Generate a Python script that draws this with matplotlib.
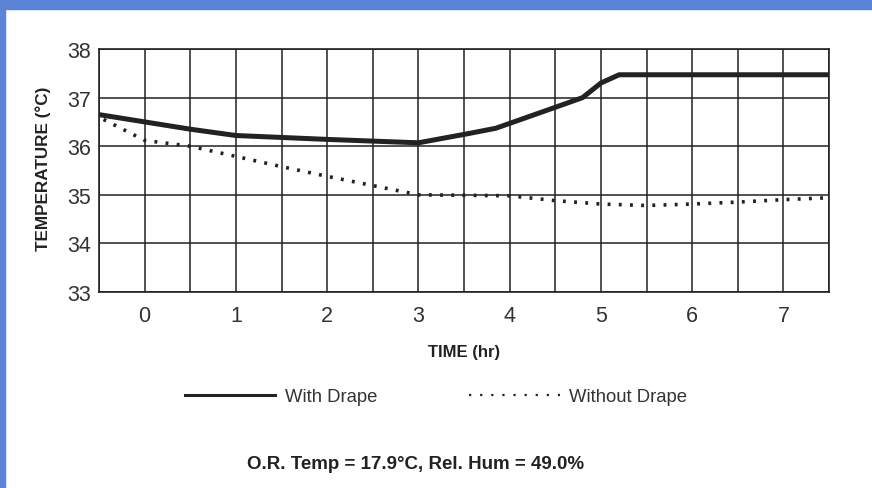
import matplotlib
matplotlib.use("Agg")
import matplotlib.pyplot as plt
from matplotlib.lines import Line2D
from matplotlib.patches import Rectangle

plt.rcParams['font.family'] = ['Liberation Sans', 'DejaVu Sans']

# data (time in hr, temperature in degC)
with_time = [-0.5, 0.0, 0.5, 1.0, 2.0, 3.0, 3.55, 3.85, 4.5, 4.8, 5.0, 5.2, 7.5]
with_temp = [36.65, 36.5, 36.35, 36.22, 36.14, 36.07, 36.26, 36.37, 36.8, 37.0, 37.3, 37.47, 37.47]

without_time = [-0.45, 0.0, 0.5, 1.0, 1.5, 2.0, 2.5, 3.0, 4.0, 4.5, 5.0, 5.5, 6.0, 6.5, 7.0, 7.5]
without_temp = [36.55, 36.12, 36.0, 35.79, 35.58, 35.38, 35.19, 35.0, 34.98, 34.88, 34.81, 34.78, 34.81, 34.85, 34.9, 34.94]

x_ticks = [0, 1, 2, 3, 4, 5, 6, 7]
x_minor = [-0.5, 0.5, 1.5, 2.5, 3.5, 4.5, 5.5, 6.5, 7.5]
y_ticks = [33, 34, 35, 36, 37, 38]

fig = plt.figure(figsize=(8.72, 4.89), dpi=100)
fig.patch.set_facecolor('white')

# blue frame from the slide
blue = '#5b84d6'
fig.patches.append(Rectangle((0, 1 - 10 / 489), 1, 10 / 489, transform=fig.transFigure,
                             color=blue, zorder=0))
fig.patches.append(Rectangle((0, 0), 5 / 872, 1, transform=fig.transFigure,
                             color=blue, zorder=0))

ax = fig.add_axes([99 / 872, 1 - 293 / 489, 730 / 872, 243 / 489])

ink = '#222222'
ax.plot(with_time, with_temp, color=ink, lw=3.6, solid_capstyle='butt',
        solid_joinstyle='round', zorder=3)
ax.plot(without_time, without_temp, color=ink, lw=2.6,
        linestyle=(0, (0.8, 2.3)), dash_capstyle='butt', zorder=3)

ax.set_xlim(-0.5, 7.5)
ax.set_ylim(33, 38)
ax.set_xticks(x_ticks)
ax.set_xticks(x_minor, minor=True)
ax.set_yticks(y_ticks)
ax.grid(True, which='both', color=ink, lw=1.1)
ax.tick_params(which='both', length=0)
ax.tick_params(axis='y', labelsize=15.5, pad=6, colors='#333333')
ax.tick_params(axis='x', labelsize=15.5, pad=9, colors='#333333')
for s in ax.spines.values():
    s.set_color(ink)
    s.set_linewidth(1.2)

fig.text(43 / 872, 1 - 169 / 489, 'TEMPERATURE (°C)', rotation=90, ha='center',
         va='center', fontsize=12.3, fontweight='bold', color='#222222')
fig.text(464 / 872, 1 - 352 / 489, 'TIME (hr)', ha='center', va='center',
         fontsize=12, fontweight='bold', color='#222222')

# legend
handles = [Line2D([], [], color=ink, lw=2.2),
           Line2D([], [], color=ink, lw=1.6, linestyle=(0, (1, 4)))]
fig.legend(handles, ['With Drape', 'Without Drape'], loc='center',
           bbox_to_anchor=(436 / 872, 1 - 398 / 489), ncol=2, frameon=False,
           fontsize=13.3, handlelength=4.9, handletextpad=0.5, columnspacing=5.0,
           labelcolor='#333333')

fig.text(416 / 872, 1 - 465 / 489, 'O.R. Temp = 17.9°C, Rel. Hum = 49.0%',
         ha='center', va='center', fontsize=13.5, fontweight='bold', color='#222222')

fig.savefig('out.png', dpi=100)
